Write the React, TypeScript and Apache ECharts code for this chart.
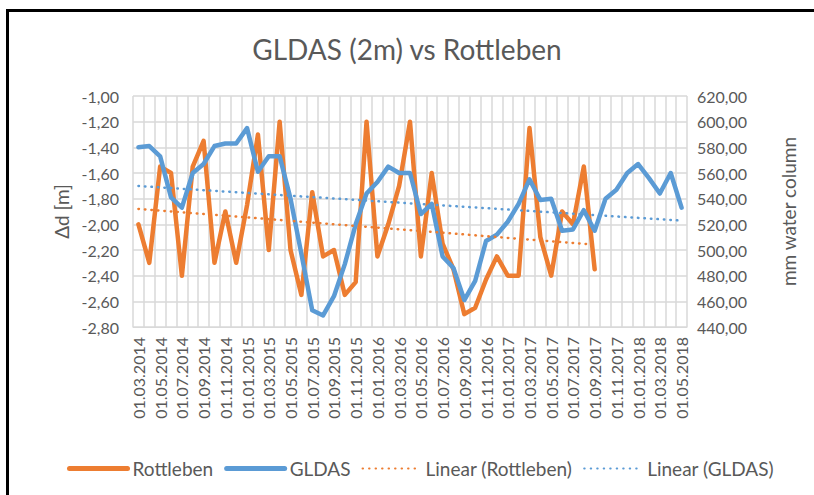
import React, { useEffect, useRef } from "react";
import * as echarts from "echarts";

const categories: string[] = [
  "01.03.2014", "01.04.2014", "01.05.2014", "01.06.2014", "01.07.2014", "01.08.2014",
  "01.09.2014", "01.10.2014", "01.11.2014", "01.12.2014", "01.01.2015", "01.02.2015",
  "01.03.2015", "01.04.2015", "01.05.2015", "01.06.2015", "01.07.2015", "01.08.2015",
  "01.09.2015", "01.10.2015", "01.11.2015", "01.12.2015", "01.01.2016", "01.02.2016",
  "01.03.2016", "01.04.2016", "01.05.2016", "01.06.2016", "01.07.2016", "01.08.2016",
  "01.09.2016", "01.10.2016", "01.11.2016", "01.12.2016", "01.01.2017", "01.02.2017",
  "01.03.2017", "01.04.2017", "01.05.2017", "01.06.2017", "01.07.2017", "01.08.2017",
  "01.09.2017", "01.10.2017", "01.11.2017", "01.12.2017", "01.01.2018", "01.02.2018",
  "01.03.2018", "01.04.2018", "01.05.2018",
];

// Δd [m] – Rottleben (left axis)
const rottleben: number[] = [
  -2.0, -2.3, -1.55, -1.6, -2.4, -1.55, -1.35, -2.3, -1.9, -2.3, -1.85, -1.3,
  -2.2, -1.2, -2.2, -2.55, -1.75, -2.25, -2.2, -2.55, -2.45, -1.2, -2.25, -2.0,
  -1.7, -1.2, -2.25, -1.6, -2.15, -2.35, -2.7, -2.65, -2.43, -2.25, -2.4, -2.4,
  -1.25, -2.1, -2.4, -1.9, -2.0, -1.55, -2.35,
];

// mm water column – GLDAS (right axis)
const gldas: number[] = [
  580, 581, 573, 541, 533, 560, 567, 581, 583, 583, 595, 561,
  573, 573, 540, 497, 453, 449, 464, 489, 520, 544, 553, 565,
  560, 560, 528, 536, 495, 486, 461, 476, 507, 512, 522, 536,
  555, 539, 540, 515, 516, 531, 515, 540, 547, 560, 567, 556,
  544, 560, 533,
];

const leftTicks = { min: -2.8, max: -1.0, interval: 0.2 };
const rightTicks = { min: 440, max: 620, interval: 20 };

function linearTrend(vals: number[]): number[] {
  const n = vals.length;
  let sx = 0, sy = 0, sxy = 0, sxx = 0;
  vals.forEach((v, i) => {
    sx += i; sy += v; sxy += i * v; sxx += i * i;
  });
  const slope = (n * sxy - sx * sy) / (n * sxx - sx * sx);
  const icpt = (sy - slope * sx) / n;
  return vals.map((_, i) => icpt + slope * i);
}

const ORANGE = "#ED7D31";
const BLUE = "#5B9BD5";
const TXT = "#595959";
const FONT = "Lato, 'Open Sans', sans-serif";

const fmt = (v: number) => v.toFixed(2).replace(".", ",");

export default function App() {
  const ref = useRef<HTMLDivElement>(null);
  useEffect(() => {
    if (!ref.current) return;
    const chart = echarts.init(ref.current, undefined, { renderer: "svg" });
    const trendR = linearTrend(rottleben);
    const trendG = linearTrend(gldas);
    chart.setOption({
      animation: false,
      backgroundColor: "#ffffff",
      textStyle: { fontFamily: FONT },
      title: {
        text: "GLDAS (2m) vs Rottleben",
        left: "center",
        top: 30,
        textStyle: { fontFamily: FONT, fontSize: 28, fontWeight: "normal", color: TXT },
      },
      graphic: [
        {
          type: "rect",
          shape: { x: 7.5, y: 10.5, width: 900, height: 600 },
          style: { fill: "none", stroke: "#000", lineWidth: 3 },
          silent: true,
        },
      ],
      legend: {
        top: 454,
        left: 62,
        itemWidth: 58,
        itemHeight: 12,
        itemGap: 11,
        itemStyle: { opacity: 0 },
        textStyle: { fontFamily: FONT, fontSize: 19, color: TXT },
        data: [
          { name: "Rottleben", lineStyle: { width: 5 } },
          { name: "GLDAS", lineStyle: { width: 5 } },
          { name: "Linear (Rottleben)" },
          { name: "Linear (GLDAS)" },
        ],
      },
      grid: { left: 133, right: 127, top: 96, bottom: 168 },
      xAxis: {
        type: "category",
        data: categories,
        boundaryGap: true,
        axisLine: { show: true, lineStyle: { color: "#d9d9d9", width: 1 } },
        axisTick: { show: false },
        axisLabel: {
          interval: 1,
          rotate: 90,
          margin: 10,
          fontFamily: FONT,
          fontSize: 16,
          color: TXT,
        },
        splitLine: { show: true, interval: 0, lineStyle: { color: "#d9d9d9", width: 1.5 } },
      },
      yAxis: [
        {
          type: "value",
          min: leftTicks.min,
          max: leftTicks.max,
          interval: leftTicks.interval,
          name: "Δd [m]",
          nameLocation: "middle",
          nameGap: 59,
          nameRotate: 90,
          nameTextStyle: { fontFamily: FONT, fontSize: 19, color: TXT },
          axisLine: { show: false },
          axisTick: { show: false },
          axisLabel: { formatter: fmt, fontFamily: FONT, fontSize: 16, color: TXT, margin: 14 },
          splitLine: { show: true, lineStyle: { color: "#d9d9d9", width: 1.5 } },
        },
        {
          type: "value",
          min: rightTicks.min,
          max: rightTicks.max,
          interval: rightTicks.interval,
          name: "mm water column",
          nameLocation: "middle",
          nameGap: 92,
          nameRotate: 90,
          nameTextStyle: { fontFamily: FONT, fontSize: 19, color: TXT },
          axisLine: { show: false },
          axisTick: { show: false },
          axisLabel: { formatter: fmt, fontFamily: FONT, fontSize: 16, color: TXT, margin: 10 },
          splitLine: { show: false },
        },
      ],
      series: [
        {
          name: "Rottleben",
          type: "line",
          yAxisIndex: 0,
          data: rottleben,
          symbol: "none",
          lineStyle: { color: ORANGE, width: 4.5, join: "round", cap: "round" },
          itemStyle: { color: ORANGE },
        },
        {
          name: "GLDAS",
          type: "line",
          yAxisIndex: 1,
          data: gldas,
          symbol: "none",
          lineStyle: { color: BLUE, width: 4.5, join: "round", cap: "round" },
          itemStyle: { color: BLUE },
        },
        {
          name: "Linear (Rottleben)",
          type: "line",
          yAxisIndex: 0,
          data: trendR,
          symbol: "none",
          lineStyle: { color: ORANGE, width: 2.5, type: [0.5, 6], cap: "round" },
          itemStyle: { color: ORANGE },
        },
        {
          name: "Linear (GLDAS)",
          type: "line",
          yAxisIndex: 1,
          data: trendG,
          symbol: "none",
          lineStyle: { color: BLUE, width: 2.5, type: [0.5, 6], cap: "round" },
          itemStyle: { color: BLUE },
        },
      ],
    });
    return () => chart.dispose();
  }, []);
  return (
    <div
      ref={ref}
      style={{ position: "fixed", left: 0, top: 0, width: 814, height: 495 }}
    />
  );
}
